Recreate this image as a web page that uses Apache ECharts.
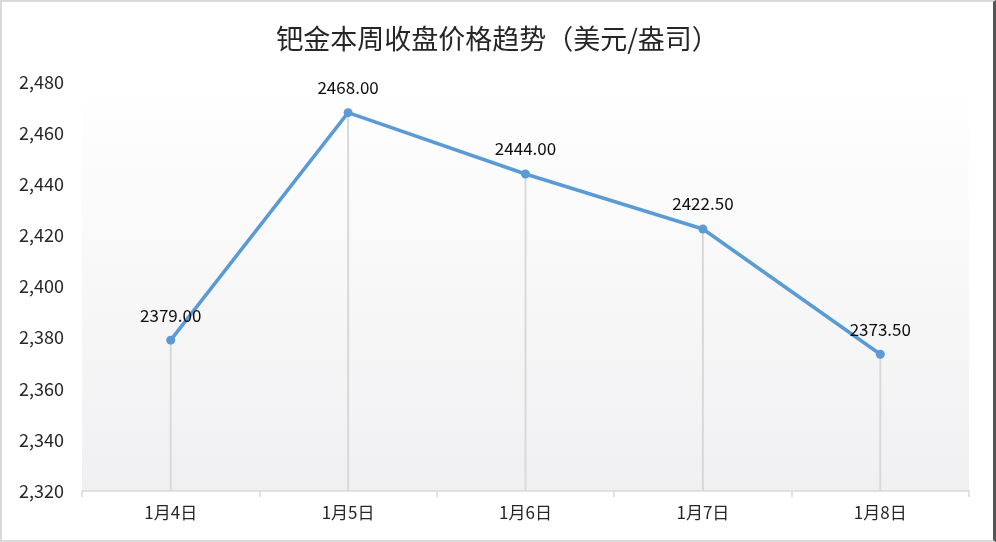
<!DOCTYPE html>
<html>
<head>
<meta charset="utf-8">
<script src="https://cdn.jsdelivr.net/npm/echarts@6/dist/echarts.min.js"></script>
<style>
html,body{margin:0;padding:0;background:#fff;}
#c{width:996px;height:542px;box-sizing:border-box;border:2px solid #d9d9d9;border-right:3px solid #555;}
</style>
</head>
<body>
<div id="c"></div>
<script>
const titleText = '钯金本周收盘价格趋势（美元/盎司）';
const categories = ['1月4日', '1月5日', '1月6日', '1月7日', '1月8日'];
const closePrices = [2379.00, 2468.00, 2444.00, 2422.50, 2373.50];
const yMin = 2320, yMax = 2480, yStep = 20;

const chart = echarts.init(document.getElementById('c'));
const font = '"Noto Sans CJK SC", "Noto Sans", sans-serif';
chart.setOption({
  animation: false,
  title: {
    text: titleText, left: 'center', top: 18,
    textStyle: {fontFamily: font, fontSize: 27, fontWeight: 'normal', color: '#262626'}
  },
  grid: {
    left: 80, right: 24, top: 80, bottom: 49,
    show: true, borderWidth: 0,
    backgroundColor: {type: 'linear', x: 0, y: 0, x2: 0, y2: 1,
      colorStops: [{offset: 0, color: '#ffffff'}, {offset: 1, color: '#f0f0f2'}]}
  },
  xAxis: {
    type: 'category', data: categories, boundaryGap: true,
    axisLine: {lineStyle: {color: '#d9d9d9', width: 1.5}},
    axisTick: {show: true, length: 6, lineStyle: {color: '#d9d9d9', width: 1.5}},
    axisLabel: {fontFamily: font, fontSize: 17, color: '#262626', margin: 13},
    splitLine: {show: false}
  },
  yAxis: {
    type: 'value', min: yMin, max: yMax, interval: yStep,
    axisLine: {show: false}, axisTick: {show: false},
    splitLine: {show: false},
    axisLabel: {fontFamily: font, fontSize: 18, color: '#262626', margin: 18,
      formatter: v => v.toLocaleString('en-US')}
  },
  series: [
    {
      type: 'bar', data: closePrices, barWidth: 2, silent: true, z: 1,
      itemStyle: {color: '#d9d9d9'}
    },
    {
      type: 'line', data: closePrices, z: 3,
      symbol: 'circle', symbolSize: 9,
      lineStyle: {color: '#5b9bd5', width: 3.5},
      itemStyle: {color: '#5b9bd5'},
      label: {show: true, position: 'top', distance: 12,
        fontFamily: font, fontSize: 17, color: '#0d0d0d',
        formatter: p => p.value.toFixed(2)}
    }
  ]
});
</script>
</body>
</html>
